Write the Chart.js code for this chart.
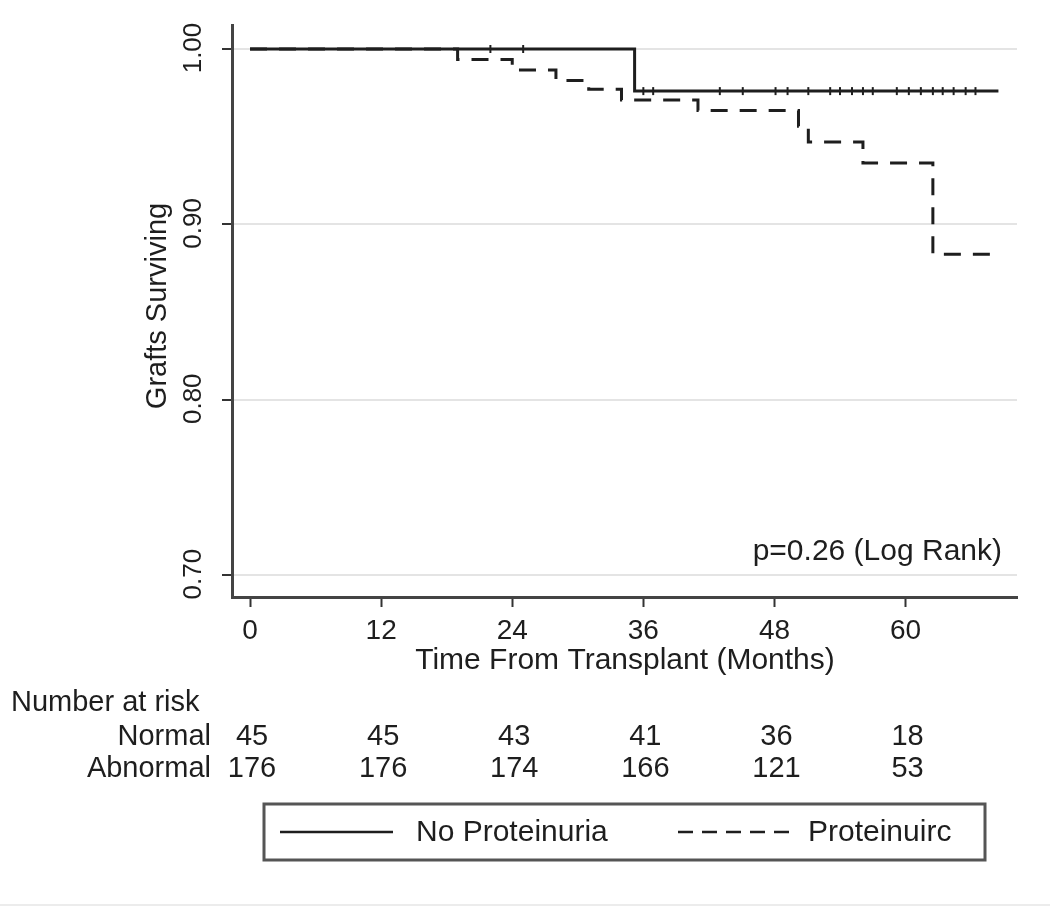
<!DOCTYPE html>
<html>
<head>
<meta charset="utf-8">
<script src="https://cdn.jsdelivr.net/npm/chart.js"></script>
<style>
  html, body { margin: 0; padding: 0; background: #fff; }
  #wrap { width: 1050px; height: 908px; position: relative; }
</style>
</head>
<body>
<div id="wrap"><canvas id="km" width="1050" height="908"></canvas></div>
<script>
// Kaplan-Meier steps (months, survival after the step)
const normalTimes = [0, 35.2, 68.5];
const normalSurv = [1.0, 0.976, 0.976];
const protTimes = [0, 19, 24, 28, 31, 34, 41, 50.2, 51.1, 56.1, 62.5, 67.8];
const protSurv = [1.0, 0.994, 0.988, 0.982, 0.977, 0.971, 0.965, 0.956, 0.947, 0.935, 0.883, 0.883];
// censoring marks on the No Proteinuria curve
const censorTimes = [22, 25, 36.0, 36.9, 43.0, 45.1, 48.1, 49.2, 51.1, 53.1, 54.0, 55.1, 56.1, 57.0, 59.2, 60.3, 61.4, 62.5, 63.4, 64.4, 65.5, 66.4];
const censorSurv = [1.0, 1.0, 0.976, 0.976, 0.976, 0.976, 0.976, 0.976, 0.976, 0.976, 0.976, 0.976, 0.976, 0.976, 0.976, 0.976, 0.976, 0.976, 0.976, 0.976, 0.976, 0.976];

const xTicks = [0, 12, 24, 36, 48, 60];
const yTicks = [0.70, 0.80, 0.90, 1.00];
const riskNormal = [45, 45, 43, 41, 36, 18];
const riskAbnormal = [176, 176, 174, 166, 121, 53];
const seriesLabels = ['No Proteinuria', 'Proteinuirc'];

const FONT = "'Liberation Sans', Arial, sans-serif";
const INK = '#1e1e1e';

function pts(xs, ys) {
    return xs.map((x, i) => ({ x: x, y: ys[i] }));
}

const extras = {
    id: 'extras',
    afterDraw(chart) {
        const ctx = chart.ctx;
        const xs = chart.scales.x;
        const ys = chart.scales.y;
        ctx.save();
        ctx.fillStyle = INK;

        // y tick labels, rotated
        ctx.font = '26px ' + FONT;
        ctx.textAlign = 'center';
        ctx.textBaseline = 'middle';
        yTicks.forEach(v => {
            ctx.save();
            ctx.translate(194, ys.getPixelForValue(v) - 1);
            ctx.rotate(-Math.PI / 2);
            ctx.fillText(v.toFixed(2), 0, 0);
            ctx.restore();
        });

        // y title
        ctx.font = '29px ' + FONT;
        ctx.save();
        ctx.translate(158, 306);
        ctx.rotate(-Math.PI / 2);
        ctx.fillText('Grafts Surviving', 0, 0);
        ctx.restore();

        // x title
        ctx.font = '30px ' + FONT;
        ctx.fillText('Time From Transplant (Months)', 625, 661);

        // p value
        ctx.textAlign = 'right';
        ctx.fillText('p=0.26 (Log Rank)', 1002, 552);

        // number at risk table
        ctx.font = '29px ' + FONT;
        ctx.textAlign = 'left';
        ctx.fillText('Number at risk', 11, 703);
        ctx.textAlign = 'right';
        ctx.fillText('Normal', 211, 737);
        ctx.fillText('Abnormal', 211, 769);
        ctx.textAlign = 'center';
        xTicks.forEach((t, i) => {
            const px = xs.getPixelForValue(t) + 2;
            ctx.fillText(String(riskNormal[i]), px, 737);
            ctx.fillText(String(riskAbnormal[i]), px, 769);
        });

        // legend box
        ctx.strokeStyle = '#555';
        ctx.lineWidth = 3;
        ctx.strokeRect(264, 804, 721, 56);
        ctx.strokeStyle = INK;
        ctx.lineWidth = 2.5;
        ctx.beginPath();
        ctx.moveTo(280, 832);
        ctx.lineTo(393, 832);
        ctx.stroke();
        ctx.setLineDash([15, 9]);
        ctx.beginPath();
        ctx.moveTo(678, 832);
        ctx.lineTo(792, 832);
        ctx.stroke();
        ctx.setLineDash([]);
        ctx.font = '30px ' + FONT;
        ctx.textAlign = 'left';
        ctx.fillText(seriesLabels[0], 416, 833);
        ctx.fillText(seriesLabels[1], 808, 833);

        // faint frame line at the bottom
        ctx.strokeStyle = '#ececec';
        ctx.lineWidth = 2;
        ctx.beginPath();
        ctx.moveTo(0, 905);
        ctx.lineTo(1050, 905);
        ctx.stroke();
        ctx.restore();
    }
};

new Chart(document.getElementById('km'), {
    type: 'line',
    data: {
        datasets: [
            {
                label: seriesLabels[0],
                data: pts(normalTimes, normalSurv),
                stepped: 'before',
                borderColor: INK,
                borderWidth: 3,
                pointRadius: 0,
                fill: false
            },
            {
                label: seriesLabels[1],
                data: pts(protTimes, protSurv),
                stepped: 'before',
                borderColor: INK,
                borderWidth: 3,
                borderDash: [17, 12],
                pointRadius: 0,
                fill: false
            },
            {
                label: 'censored',
                data: pts(censorTimes, censorSurv),
                showLine: false,
                pointStyle: 'line',
                rotation: 90,
                pointRadius: 4,
                borderColor: INK,
                borderWidth: 2
            }
        ]
    },
    options: {
        responsive: false,
        animation: false,
        devicePixelRatio: 1,
        layout: { padding: { left: 0, top: 25, right: 33, bottom: 0 } },
        plugins: { legend: { display: false }, tooltip: { enabled: false } },
        scales: {
            x: {
                type: 'linear',
                min: -1.65,
                max: 70.2,
                afterBuildTicks: s => { s.ticks = xTicks.map(v => ({ value: v })); },
                afterFit: s => { s.height = 311; },
                grid: { drawOnChartArea: false, drawTicks: true, tickLength: 10, tickColor: '#333', tickWidth: 2 },
                border: { color: '#444', width: 3 },
                ticks: { color: INK, font: { family: FONT, size: 28 }, padding: 7, maxRotation: 0 }
            },
            y: {
                type: 'linear',
                min: 0.6875,
                max: 1.0137,
                afterBuildTicks: s => { s.ticks = yTicks.map(v => ({ value: v })); },
                afterFit: s => { s.width = 232; },
                grid: { color: '#e4e4e4', lineWidth: 2, drawTicks: true, tickLength: 10, tickColor: '#333', tickWidth: 2 },
                border: { color: '#444', width: 3 },
                ticks: { display: false }
            }
        }
    },
    plugins: [extras]
});
</script>
</body>
</html>
